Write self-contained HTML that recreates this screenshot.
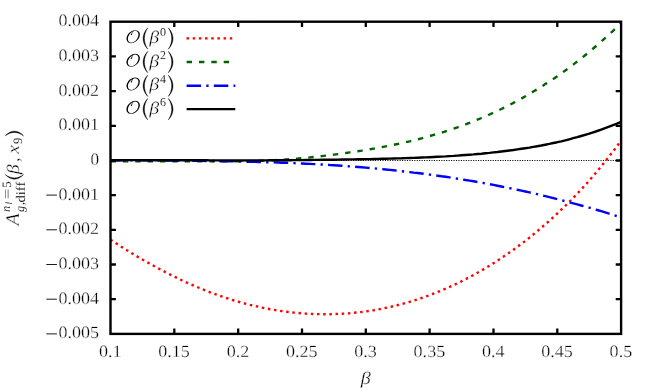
<!DOCTYPE html>
<html><head><meta charset="utf-8"><title>plot</title>
<style>
html,body{margin:0;padding:0;background:#fff;}
body{width:654px;height:392px;overflow:hidden;}
svg{display:block;opacity:0.999;will-change:transform;}
text{font-family:"Liberation Serif",serif;fill:#000;text-rendering:geometricPrecision;stroke:#fff;stroke-width:0.3px;}
.t{font-size:17.2px;}
.i{font-style:italic;}
.s{stroke-width:0.12px;}
</style></head><body>
<svg width="654" height="392" viewBox="0 0 654 392">
<rect width="654" height="392" fill="#fff"/>
<line x1="110.5" y1="160.5" x2="621.1" y2="160.5" stroke="#000" stroke-width="1" stroke-dasharray="1.1 1.35"/>
<g fill="none" stroke-width="2.4" stroke-linejoin="round">
<path d="M110.5,239.7 L114.5,242.3 L118.5,244.9 L122.5,247.4 L126.5,249.9 L130.4,252.4 L134.4,254.8 L138.4,257.2 L142.4,259.5 L146.4,261.8 L150.4,264.0 L154.4,266.2 L158.4,268.4 L162.4,270.5 L166.3,272.6 L170.3,274.6 L174.3,276.6 L178.3,278.6 L182.3,280.5 L186.3,282.3 L190.3,284.1 L194.3,285.8 L198.3,287.5 L202.2,289.2 L206.2,290.7 L210.2,292.3 L214.2,293.8 L218.2,295.2 L222.2,296.6 L226.2,298.0 L230.2,299.2 L234.2,300.5 L238.2,301.6 L242.1,302.8 L246.1,303.8 L250.1,304.9 L254.1,305.8 L258.1,306.7 L262.1,307.6 L266.1,308.4 L270.1,309.2 L274.1,309.9 L278.0,310.5 L282.0,311.1 L286.0,311.7 L290.0,312.2 L294.0,312.6 L298.0,313.0 L302.0,313.4 L306.0,313.6 L310.0,313.9 L313.9,314.0 L317.9,314.1 L321.9,314.2 L325.9,314.2 L329.9,314.2 L333.9,314.1 L337.9,313.9 L341.9,313.7 L345.9,313.5 L349.8,313.2 L353.8,312.8 L357.8,312.4 L361.8,312.0 L365.8,311.4 L369.8,310.8 L373.8,310.2 L377.8,309.5 L381.8,308.7 L385.7,307.9 L389.7,307.1 L393.7,306.1 L397.7,305.1 L401.7,304.1 L405.7,303.0 L409.7,301.8 L413.7,300.6 L417.7,299.3 L421.6,298.0 L425.6,296.6 L429.6,295.1 L433.6,293.6 L437.6,292.0 L441.6,290.4 L445.6,288.7 L449.6,286.9 L453.6,285.1 L457.5,283.2 L461.5,281.3 L465.5,279.2 L469.5,277.1 L473.5,275.0 L477.5,272.8 L481.5,270.5 L485.5,268.1 L489.5,265.7 L493.5,263.2 L497.4,260.7 L501.4,258.0 L505.4,255.3 L509.4,252.6 L513.4,249.8 L517.4,246.8 L521.4,243.9 L525.4,240.8 L529.4,237.7 L533.3,234.5 L537.3,231.2 L541.3,227.8 L545.3,224.4 L549.3,220.8 L553.3,217.2 L557.3,213.5 L561.3,209.7 L565.3,205.9 L569.2,201.9 L573.2,197.9 L577.2,193.7 L581.2,189.5 L585.2,185.1 L589.2,180.6 L593.2,176.0 L597.2,171.3 L601.2,166.4 L605.1,161.5 L609.1,156.4 L613.1,151.3 L617.1,146.0 L621.1,140.5" stroke="#ff0000" stroke-width="2.4" stroke-dasharray="2.5 3.68"/>
<path d="M110.5,161.3 L114.5,161.3 L118.5,161.3 L122.5,161.3 L126.5,161.3 L130.4,161.3 L134.4,161.3 L138.4,161.3 L142.4,161.3 L146.4,161.3 L150.4,161.3 L154.4,161.3 L158.4,161.3 L162.4,161.3 L166.3,161.3 L170.3,161.3 L174.3,161.3 L178.3,161.3 L182.3,161.3 L186.3,161.3 L190.3,161.3 L194.3,161.3 L198.3,161.3 L202.2,161.3 L206.2,161.3 L210.2,161.3 L214.2,161.3 L218.2,161.3 L222.2,161.3 L226.2,161.3 L230.2,161.3 L234.2,161.2 L238.2,161.2 L242.1,161.2 L246.1,161.1 L250.1,161.1 L254.1,161.0 L258.1,160.8 L262.1,160.7 L266.1,160.5 L270.1,160.4 L274.1,160.2 L278.0,159.9 L282.0,159.7 L286.0,159.4 L290.0,159.1 L294.0,158.8 L298.0,158.5 L302.0,158.1 L306.0,157.8 L310.0,157.4 L313.9,157.0 L317.9,156.6 L321.9,156.1 L325.9,155.6 L329.9,155.1 L333.9,154.6 L337.9,154.1 L341.9,153.6 L345.9,153.0 L349.8,152.4 L353.8,151.8 L357.8,151.2 L361.8,150.6 L365.8,149.9 L369.8,149.3 L373.8,148.6 L377.8,147.9 L381.8,147.1 L385.7,146.4 L389.7,145.6 L393.7,144.8 L397.7,144.0 L401.7,143.1 L405.7,142.2 L409.7,141.3 L413.7,140.3 L417.7,139.3 L421.6,138.3 L425.6,137.2 L429.6,136.1 L433.6,134.9 L437.6,133.8 L441.6,132.6 L445.6,131.3 L449.6,130.0 L453.6,128.7 L457.5,127.3 L461.5,125.8 L465.5,124.4 L469.5,122.8 L473.5,121.3 L477.5,119.6 L481.5,118.0 L485.5,116.3 L489.5,114.5 L493.5,112.7 L497.4,110.9 L501.4,109.0 L505.4,107.0 L509.4,105.0 L513.4,102.9 L517.4,100.8 L521.4,98.6 L525.4,96.3 L529.4,94.0 L533.3,91.6 L537.3,89.2 L541.3,86.7 L545.3,84.1 L549.3,81.6 L553.3,78.9 L557.3,76.2 L561.3,73.4 L565.3,70.5 L569.2,67.6 L573.2,64.6 L577.2,61.5 L581.2,58.4 L585.2,55.2 L589.2,51.9 L593.2,48.5 L597.2,45.1 L601.2,41.6 L605.1,38.1 L609.1,34.5 L613.1,30.8 L617.1,27.1 L621.1,23.3" stroke="#006400" stroke-dasharray="5.4 6.97"/>
<path d="M110.5,160.4 L114.5,160.4 L118.5,160.4 L122.5,160.4 L126.5,160.4 L130.4,160.4 L134.4,160.4 L138.4,160.4 L142.4,160.4 L146.4,160.4 L150.4,160.5 L154.4,160.5 L158.4,160.5 L162.4,160.5 L166.3,160.5 L170.3,160.5 L174.3,160.5 L178.3,160.5 L182.3,160.5 L186.3,160.5 L190.3,160.6 L194.3,160.7 L198.3,160.8 L202.2,160.9 L206.2,161.0 L210.2,161.0 L214.2,161.1 L218.2,161.2 L222.2,161.2 L226.2,161.3 L230.2,161.4 L234.2,161.4 L238.2,161.5 L242.1,161.6 L246.1,161.7 L250.1,161.8 L254.1,161.9 L258.1,162.0 L262.1,162.1 L266.1,162.2 L270.1,162.3 L274.1,162.4 L278.0,162.5 L282.0,162.7 L286.0,162.8 L290.0,163.0 L294.0,163.1 L298.0,163.3 L302.0,163.5 L306.0,163.7 L310.0,163.9 L313.9,164.1 L317.9,164.3 L321.9,164.5 L325.9,164.7 L329.9,165.0 L333.9,165.2 L337.9,165.5 L341.9,165.8 L345.9,166.1 L349.8,166.4 L353.8,166.7 L357.8,167.0 L361.8,167.3 L365.8,167.6 L369.8,168.0 L373.8,168.3 L377.8,168.7 L381.8,169.1 L385.7,169.5 L389.7,169.9 L393.7,170.3 L397.7,170.7 L401.7,171.2 L405.7,171.6 L409.7,172.1 L413.7,172.6 L417.7,173.0 L421.6,173.5 L425.6,174.1 L429.6,174.6 L433.6,175.1 L437.6,175.7 L441.6,176.3 L445.6,176.8 L449.6,177.4 L453.6,178.1 L457.5,178.7 L461.5,179.3 L465.5,180.0 L469.5,180.6 L473.5,181.3 L477.5,182.0 L481.5,182.7 L485.5,183.4 L489.5,184.2 L493.5,184.9 L497.4,185.7 L501.4,186.5 L505.4,187.3 L509.4,188.1 L513.4,188.9 L517.4,189.8 L521.4,190.6 L525.4,191.5 L529.4,192.4 L533.3,193.3 L537.3,194.2 L541.3,195.2 L545.3,196.1 L549.3,197.1 L553.3,198.1 L557.3,199.1 L561.3,200.1 L565.3,201.2 L569.2,202.2 L573.2,203.3 L577.2,204.4 L581.2,205.5 L585.2,206.6 L589.2,207.7 L593.2,208.9 L597.2,210.0 L601.2,211.2 L605.1,212.4 L609.1,213.6 L613.1,214.9 L617.1,216.1 L621.1,217.4" stroke="#0000ff" stroke-dasharray="14.5 5.2 2.3 5.2"/>
<path d="M110.5,160.2 L114.5,160.2 L118.5,160.2 L122.5,160.1 L126.5,160.1 L130.4,160.1 L134.4,160.1 L138.4,160.1 L142.4,160.2 L146.4,160.2 L150.4,160.2 L154.4,160.2 L158.4,160.2 L162.4,160.2 L166.3,160.2 L170.3,160.2 L174.3,160.3 L178.3,160.3 L182.3,160.3 L186.3,160.3 L190.3,160.3 L194.3,160.3 L198.3,160.3 L202.2,160.3 L206.2,160.3 L210.2,160.4 L214.2,160.4 L218.2,160.4 L222.2,160.4 L226.2,160.4 L230.2,160.4 L234.2,160.5 L238.2,160.5 L242.1,160.5 L246.1,160.4 L250.1,160.4 L254.1,160.4 L258.1,160.4 L262.1,160.4 L266.1,160.4 L270.1,160.3 L274.1,160.3 L278.0,160.3 L282.0,160.3 L286.0,160.2 L290.0,160.2 L294.0,160.1 L298.0,160.1 L302.0,160.1 L306.0,160.0 L310.0,160.0 L313.9,159.9 L317.9,159.9 L321.9,159.8 L325.9,159.8 L329.9,159.7 L333.9,159.7 L337.9,159.6 L341.9,159.5 L345.9,159.5 L349.8,159.4 L353.8,159.4 L357.8,159.3 L361.8,159.2 L365.8,159.1 L369.8,159.1 L373.8,159.0 L377.8,158.9 L381.8,158.8 L385.7,158.7 L389.7,158.6 L393.7,158.5 L397.7,158.4 L401.7,158.3 L405.7,158.1 L409.7,158.0 L413.7,157.9 L417.7,157.7 L421.6,157.5 L425.6,157.4 L429.6,157.2 L433.6,157.0 L437.6,156.8 L441.6,156.6 L445.6,156.4 L449.6,156.1 L453.6,155.9 L457.5,155.6 L461.5,155.3 L465.5,155.0 L469.5,154.7 L473.5,154.4 L477.5,154.0 L481.5,153.7 L485.5,153.3 L489.5,152.9 L493.5,152.4 L497.4,152.0 L501.4,151.5 L505.4,151.0 L509.4,150.5 L513.4,150.0 L517.4,149.4 L521.4,148.8 L525.4,148.2 L529.4,147.6 L533.3,146.9 L537.3,146.2 L541.3,145.5 L545.3,144.7 L549.3,143.9 L553.3,143.0 L557.3,142.2 L561.3,141.3 L565.3,140.3 L569.2,139.3 L573.2,138.2 L577.2,137.2 L581.2,136.0 L585.2,134.8 L589.2,133.6 L593.2,132.3 L597.2,131.0 L601.2,129.6 L605.1,128.2 L609.1,126.7 L613.1,125.2 L617.1,123.6 L621.1,121.9" stroke="#000"/>
</g>
<g fill="none" stroke-width="2.4">
<path d="M186.5,38.4H235.3" stroke="#ff0000" stroke-width="2.4" stroke-dasharray="2.5 3.68"/>
<path d="M186.6,62.0H235.3" stroke="#006400" stroke-dasharray="5.4 6.97"/>
<path d="M186.6,85.7H235.3" stroke="#0000ff" stroke-dasharray="14.5 5.2 2.3 5.2"/>
<path d="M186.6,109.1H235.3" stroke="#000"/>
</g>
<rect x="110.5" y="21.7" width="510.6" height="312.2" fill="none" stroke="#000" stroke-width="2.4"/>
<path d="M174.3,333.9v-5.4M174.3,21.7v5.4M238.2,333.9v-5.4M238.2,21.7v5.4M302.0,333.9v-5.4M302.0,21.7v5.4M365.8,333.9v-5.4M365.8,21.7v5.4M429.6,333.9v-5.4M429.6,21.7v5.4M493.5,333.9v-5.4M493.5,21.7v5.4M557.3,333.9v-5.4M557.3,21.7v5.4M110.5,56.4h5.4M621.1,56.4h-5.4M110.5,91.1h5.4M621.1,91.1h-5.4M110.5,125.8h5.4M621.1,125.8h-5.4M110.5,160.5h5.4M621.1,160.5h-5.4M110.5,195.1h5.4M621.1,195.1h-5.4M110.5,229.8h5.4M621.1,229.8h-5.4M110.5,264.5h5.4M621.1,264.5h-5.4M110.5,299.2h5.4M621.1,299.2h-5.4" stroke="#000" stroke-width="2.3" fill="none"/>
<text class="t" x="99.0" y="356.5" textLength="22.6" lengthAdjust="spacingAndGlyphs">0.1</text>
<text class="t" x="158.3" y="356.5" textLength="31.6" lengthAdjust="spacingAndGlyphs">0.15</text>
<text class="t" x="226.7" y="356.5" textLength="22.6" lengthAdjust="spacingAndGlyphs">0.2</text>
<text class="t" x="286.0" y="356.5" textLength="31.6" lengthAdjust="spacingAndGlyphs">0.25</text>
<text class="t" x="354.3" y="356.5" textLength="22.6" lengthAdjust="spacingAndGlyphs">0.3</text>
<text class="t" x="413.6" y="356.5" textLength="31.6" lengthAdjust="spacingAndGlyphs">0.35</text>
<text class="t" x="482.0" y="356.5" textLength="22.6" lengthAdjust="spacingAndGlyphs">0.4</text>
<text class="t" x="541.3" y="356.5" textLength="31.6" lengthAdjust="spacingAndGlyphs">0.45</text>
<text class="t" x="609.6" y="356.5" textLength="22.6" lengthAdjust="spacingAndGlyphs">0.5</text>
<text class="t" x="58.5" y="26.2" textLength="40.6" lengthAdjust="spacingAndGlyphs">0.004</text>
<text class="t" x="58.5" y="60.9" textLength="40.6" lengthAdjust="spacingAndGlyphs">0.003</text>
<text class="t" x="58.5" y="95.6" textLength="40.6" lengthAdjust="spacingAndGlyphs">0.002</text>
<text class="t" x="58.5" y="130.3" textLength="40.6" lengthAdjust="spacingAndGlyphs">0.001</text>
<text class="t" x="90.5" y="165.0" textLength="8.6" lengthAdjust="spacingAndGlyphs">0</text>
<text class="t" x="58.5" y="199.6" textLength="40.6" lengthAdjust="spacingAndGlyphs">0.001</text>
<path d="M46.3,195.1H56.9" stroke="#000" stroke-width="0.9"/>
<text class="t" x="58.5" y="234.3" textLength="40.6" lengthAdjust="spacingAndGlyphs">0.002</text>
<path d="M46.3,229.8H56.9" stroke="#000" stroke-width="0.9"/>
<text class="t" x="58.5" y="269.0" textLength="40.6" lengthAdjust="spacingAndGlyphs">0.003</text>
<path d="M46.3,264.5H56.9" stroke="#000" stroke-width="0.9"/>
<text class="t" x="58.5" y="303.7" textLength="40.6" lengthAdjust="spacingAndGlyphs">0.004</text>
<path d="M46.3,299.2H56.9" stroke="#000" stroke-width="0.9"/>
<text class="t" x="58.5" y="338.4" textLength="40.6" lengthAdjust="spacingAndGlyphs">0.005</text>
<path d="M46.3,333.9H56.9" stroke="#000" stroke-width="0.9"/>
<text class="i" x="0" y="0" font-size="17.8" transform="translate(360.7,383.6) scale(1.13,1)">β</text>
<g transform="translate(0,42.9)"><g transform="translate(126.3,0)"><g transform="translate(6.85,-6.25)"><g transform="matrix(1,0,-0.33,1,0,0)"><path fill-rule="evenodd" d="M-6.4,0A6.4,6.5 0 1,0 6.4,0A6.4,6.5 0 1,0 -6.4,0ZM-4.9,0.1A4.95,5.9 0 1,0 5.0,0.1A4.95,5.9 0 1,0 -4.9,0.1Z"/></g><path d="M0.1,-5.7C-0.7,-4.7 -1.4,-3.5 -1.75,-2.0" fill="none" stroke="#000" stroke-width="0.75" stroke-linecap="round"/><circle cx="-1.7" cy="-2.1" r="0.62"/></g></g><g transform="translate(143.1,0)"><path d="M4.6,-15 C1.4,-11.6 0,-8 0,-4.4 C0,-0.8 1.4,2.8 4.6,6.2 L4.6,6.2 C2.4,2.8 1.25,-0.8 1.25,-4.4 C1.25,-8 2.4,-11.6 4.6,-15Z" stroke="#000" stroke-width="0.45"/></g><text class="i" x="0" y="0" font-size="17.6" transform="translate(149.2,0) scale(1.13,1)">β</text><text class="s" x="159.9" y="-7.4" font-size="12">0</text><g transform="translate(168.4,0)"><path d="M0,-15 C3.2,-11.6 4.6,-8 4.6,-4.4 C4.6,-0.8 3.2,2.8 0,6.2 L0,6.2 C2.2,2.8 3.35,-0.8 3.35,-4.4 C3.35,-8 2.2,-11.6 0,-15Z" stroke="#000" stroke-width="0.45"/></g></g>
<g transform="translate(0,66.5)"><g transform="translate(126.3,0)"><g transform="translate(6.85,-6.25)"><g transform="matrix(1,0,-0.33,1,0,0)"><path fill-rule="evenodd" d="M-6.4,0A6.4,6.5 0 1,0 6.4,0A6.4,6.5 0 1,0 -6.4,0ZM-4.9,0.1A4.95,5.9 0 1,0 5.0,0.1A4.95,5.9 0 1,0 -4.9,0.1Z"/></g><path d="M0.1,-5.7C-0.7,-4.7 -1.4,-3.5 -1.75,-2.0" fill="none" stroke="#000" stroke-width="0.75" stroke-linecap="round"/><circle cx="-1.7" cy="-2.1" r="0.62"/></g></g><g transform="translate(143.1,0)"><path d="M4.6,-15 C1.4,-11.6 0,-8 0,-4.4 C0,-0.8 1.4,2.8 4.6,6.2 L4.6,6.2 C2.4,2.8 1.25,-0.8 1.25,-4.4 C1.25,-8 2.4,-11.6 4.6,-15Z" stroke="#000" stroke-width="0.45"/></g><text class="i" x="0" y="0" font-size="17.6" transform="translate(149.2,0) scale(1.13,1)">β</text><text class="s" x="159.9" y="-7.4" font-size="12">2</text><g transform="translate(168.4,0)"><path d="M0,-15 C3.2,-11.6 4.6,-8 4.6,-4.4 C4.6,-0.8 3.2,2.8 0,6.2 L0,6.2 C2.2,2.8 3.35,-0.8 3.35,-4.4 C3.35,-8 2.2,-11.6 0,-15Z" stroke="#000" stroke-width="0.45"/></g></g>
<g transform="translate(0,90.2)"><g transform="translate(126.3,0)"><g transform="translate(6.85,-6.25)"><g transform="matrix(1,0,-0.33,1,0,0)"><path fill-rule="evenodd" d="M-6.4,0A6.4,6.5 0 1,0 6.4,0A6.4,6.5 0 1,0 -6.4,0ZM-4.9,0.1A4.95,5.9 0 1,0 5.0,0.1A4.95,5.9 0 1,0 -4.9,0.1Z"/></g><path d="M0.1,-5.7C-0.7,-4.7 -1.4,-3.5 -1.75,-2.0" fill="none" stroke="#000" stroke-width="0.75" stroke-linecap="round"/><circle cx="-1.7" cy="-2.1" r="0.62"/></g></g><g transform="translate(143.1,0)"><path d="M4.6,-15 C1.4,-11.6 0,-8 0,-4.4 C0,-0.8 1.4,2.8 4.6,6.2 L4.6,6.2 C2.4,2.8 1.25,-0.8 1.25,-4.4 C1.25,-8 2.4,-11.6 4.6,-15Z" stroke="#000" stroke-width="0.45"/></g><text class="i" x="0" y="0" font-size="17.6" transform="translate(149.2,0) scale(1.13,1)">β</text><text class="s" x="159.9" y="-7.4" font-size="12">4</text><g transform="translate(168.4,0)"><path d="M0,-15 C3.2,-11.6 4.6,-8 4.6,-4.4 C4.6,-0.8 3.2,2.8 0,6.2 L0,6.2 C2.2,2.8 3.35,-0.8 3.35,-4.4 C3.35,-8 2.2,-11.6 0,-15Z" stroke="#000" stroke-width="0.45"/></g></g>
<g transform="translate(0,113.6)"><g transform="translate(126.3,0)"><g transform="translate(6.85,-6.25)"><g transform="matrix(1,0,-0.33,1,0,0)"><path fill-rule="evenodd" d="M-6.4,0A6.4,6.5 0 1,0 6.4,0A6.4,6.5 0 1,0 -6.4,0ZM-4.9,0.1A4.95,5.9 0 1,0 5.0,0.1A4.95,5.9 0 1,0 -4.9,0.1Z"/></g><path d="M0.1,-5.7C-0.7,-4.7 -1.4,-3.5 -1.75,-2.0" fill="none" stroke="#000" stroke-width="0.75" stroke-linecap="round"/><circle cx="-1.7" cy="-2.1" r="0.62"/></g></g><g transform="translate(143.1,0)"><path d="M4.6,-15 C1.4,-11.6 0,-8 0,-4.4 C0,-0.8 1.4,2.8 4.6,6.2 L4.6,6.2 C2.4,2.8 1.25,-0.8 1.25,-4.4 C1.25,-8 2.4,-11.6 4.6,-15Z" stroke="#000" stroke-width="0.45"/></g><text class="i" x="0" y="0" font-size="17.6" transform="translate(149.2,0) scale(1.13,1)">β</text><text class="s" x="159.9" y="-7.4" font-size="12">6</text><g transform="translate(168.4,0)"><path d="M0,-15 C3.2,-11.6 4.6,-8 4.6,-4.4 C4.6,-0.8 3.2,2.8 0,6.2 L0,6.2 C2.2,2.8 3.35,-0.8 3.35,-4.4 C3.35,-8 2.2,-11.6 0,-15Z" stroke="#000" stroke-width="0.45"/></g></g>
<g transform="translate(18.8,224.9) rotate(-90)"><text class="i" x="0" y="0" font-size="19.4" transform="translate(-0.6,0) scale(1.03,1)">A</text><text class="i s" x="12.8" y="-8.5" font-size="12.4">n</text><text class="i s" x="20.4" y="-6.4" font-size="9.6">l</text><text class="s" x="25.6" y="-8.0" font-size="12.6" textLength="10.6" lengthAdjust="spacingAndGlyphs">=</text><text class="s" x="37.2" y="-8.3" font-size="12.8">5</text><text class="i s" x="12.8" y="5.6" font-size="12.4">g</text><text class="s" x="19.8" y="5.4" font-size="12.4">,</text><text class="s" x="22.4" y="5.8" font-size="13.2" textLength="20.8" lengthAdjust="spacingAndGlyphs">diff</text><g transform="translate(45.7,-0.6) scale(1,0.863)"><path d="M4.6,-15 C1.4,-11.6 0,-8 0,-4.4 C0,-0.8 1.4,2.8 4.6,6.2 L4.6,6.2 C2.4,2.8 1.25,-0.8 1.25,-4.4 C1.25,-8 2.4,-11.6 4.6,-15Z" stroke="#000" stroke-width="0.45"/></g><text class="i" x="0" y="0" font-size="17.6" transform="translate(50.6,0) scale(1.13,1)">β</text><text x="62.8" y="0" font-size="18">,</text><text class="i" x="0" y="0" font-size="17.6" transform="translate(71.2,0) scale(1.1,1)">x</text><text class="s" x="80.8" y="2.9" font-size="12.8">9</text><g transform="translate(89.1,-0.6) scale(1,0.863)"><path d="M0,-15 C3.2,-11.6 4.6,-8 4.6,-4.4 C4.6,-0.8 3.2,2.8 0,6.2 L0,6.2 C2.2,2.8 3.35,-0.8 3.35,-4.4 C3.35,-8 2.2,-11.6 0,-15Z" stroke="#000" stroke-width="0.45"/></g></g>
</svg></body></html>
